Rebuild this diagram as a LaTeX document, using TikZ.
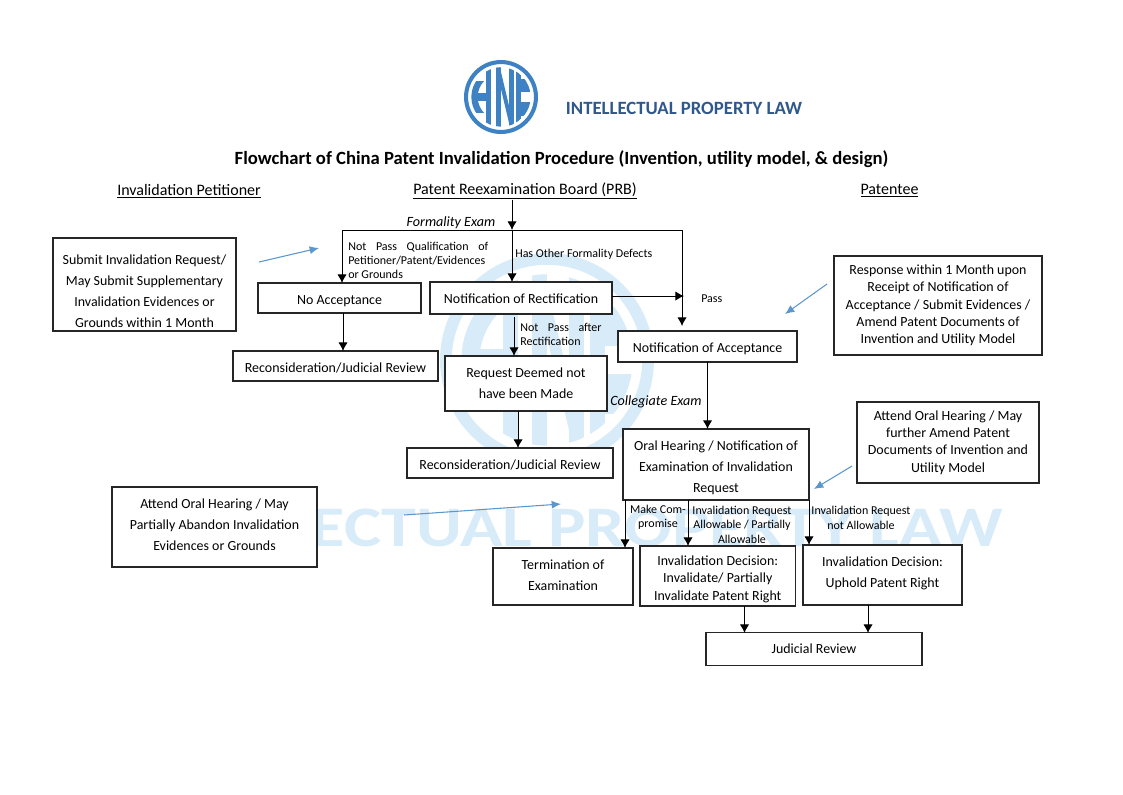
\documentclass[tikz,border=0pt]{standalone}
\usepackage{fontspec}
\setmainfont{Carlito}
\usetikzlibrary{arrows.meta}
\definecolor{logoblue}{RGB}{62,130,196}
\definecolor{lawblue}{RGB}{47,88,140}
\definecolor{markblue}{RGB}{216,235,249}
\definecolor{noteblue}{RGB}{91,150,205}
\tikzset{
	boxnode/.style={rectangle, draw=black!85, fill=white, line width=0.85pt, outer sep=0pt, inner sep=0pt, align=center, font=\fontsize{10.45}{15.7}\selectfont},
	tightnode/.style={boxnode, font=\fontsize{10.45}{13}\selectfont},
	boxsize/.style 2 args={minimum width=0.75*#1 pt, minimum height=0.75*#2 pt},
	textdown/.style={execute at begin node={\rule{0pt}{#1pt}}},
	textup/.style={execute at end node={\rule[-#1pt]{0pt}{0pt}}},
	labelnode/.style={align=center, inner sep=0pt, font=\fontsize{9}{10.8}\selectfont},
	justnode/.style={labelnode, align=justify, anchor=north west, execute at begin node={\hyphenpenalty=10000\relax}},
	examnode/.style={inner sep=0pt, font=\fontsize{10.6}{12}\selectfont\itshape},
	headnode/.style={inner sep=0pt, font=\fontsize{12}{14}\selectfont},
	flowarrow/.style={-{Latex[length=6.5pt,width=7pt]}, line width=0.7pt, draw=black},
	notearrow/.style={-{Latex[length=7pt,width=6pt]}, line width=0.8pt, draw=noteblue},
	hnclogo/.pic={
		\fill[even odd rule] (0,0) circle (1) (0,0) circle (0.89);
		\begin{scope}
			\clip (-0.8,-0.43) rectangle (-0.4,0.43);
			\fill[even odd rule] (0,0) circle (0.8) (0,0) circle (0.63);
		\end{scope}
		\begin{scope}
			\clip (0,0) circle (0.8);
			\fill (-0.7,-0.1) rectangle (-0.3,0.1);
			\fill (-0.41,-0.8) rectangle (-0.27,0.8);
			\fill (-0.14,-0.8) rectangle (0,0.8);
			\fill (0.21,-0.8) rectangle (0.35,0.8);
			\fill (-0.14,-0.8) -- (-0.03,-0.8) -- (0.35,0.8) -- (0.24,0.8) -- cycle;
			\fill (0.4,-0.8) rectangle (0.54,0.8);
			\fill (0.54,0.13) rectangle (0.8,0.5);
			\fill (0.54,-0.5) rectangle (0.8,-0.13);
		\end{scope}
	}
}
\begin{document}
\begin{tikzpicture}[x=0.75pt,y=-0.75pt]
		\useasboundingbox (0,0) rectangle (1123,794);
		% watermark
		\pic[fill=markblue, scale=107] at (547,360) {hnclogo};
		\node[inner sep=0pt, text=markblue, font=\fontsize{43}{46}\selectfont\bfseries] at (560,528) (marktext) {\scalebox{1.225}[1]{INTELLECTUAL PROPERTY LAW}};
		% letterhead
		\pic[fill=logoblue, scale=37] at (501,97) {hnclogo};
		\node[inner sep=0pt, text=lawblue, font=\fontsize{14.05}{16}\selectfont\bfseries] at (684,108) (lawtext) {INTELLECTUAL PROPERTY LAW};
		\node[inner sep=0pt, font=\fontsize{14}{16}\selectfont\bfseries] at (561.5,159) (title) {Flowchart of China Patent Invalidation Procedure (Invention, utility model, \& design)};
		\node[headnode] at (189,191) (petitioner) {\underline{Invalidation Petitioner}};
		\node[headnode] at (525,191) (board) {\underline{Patent Reexamination Board (PRB)}};
		\node[headnode] at (889.5,191) (patentee) {\underline{Patentee}};
		% boxes
		\node[boxnode, boxsize={183}{93}, textdown=64] at (144.5,284.5) (submit) {Submit Invalidation Request/\\May Submit Supplementary\\Invalidation Evidences or\\Grounds within 1 Month};
		\node[boxnode, boxsize={163}{30}, textdown=12] at (339.5,298) (noaccept) {No Acceptance};
		\node[boxnode, boxsize={182}{32}, textdown=8.5] at (521,298) (rectify) {Notification of Rectification};
		\node[boxnode, boxsize={179}{31}, textdown=10.6] at (707.5,346.5) (accept) {Notification of Acceptance};
		\node[boxnode, boxsize={205}{30}, textdown=10] at (335.5,366) (reviewA) {Reconsideration/Judicial Review};
		\node[boxnode, boxsize={162}{55}] at (526,383.5) (deemed) {Request Deemed not\\have been Made};
		\node[boxnode, boxsize={206}{30}, textdown=10] at (510,463) (reviewB) {Reconsideration/Judicial Review};
		\node[boxnode, boxsize={186}{71}, textdown=43.5] at (716,464.5) (oral) {Oral Hearing / Notification of\\Examination of Invalidation\\Request};
		\node[boxnode, boxsize={140}{57}, textup=1.5] at (563,576.5) (terminate) {Termination of\\Examination};
		\node[tightnode, boxsize={155.5}{60}, textdown=38] at (717.75,576) (invalidate) {Invalidation Decision:\\Invalidate/ Partially\\Invalidate Patent Right};
		\node[boxnode, boxsize={159}{60}, textup=4] at (882.5,575) (uphold) {Invalidation Decision:\\Uphold Patent Right};
		\node[boxnode, boxsize={216}{33}] at (814,649) (judicial) {Judicial Review};
		\node[tightnode, boxsize={208}{99}] at (938,305.5) (response) {Response within 1 Month upon\\Receipt of Notification of\\Acceptance / Submit Evidences /\\Amend Patent Documents of\\Invention and Utility Model};
		\node[tightnode, boxsize={182}{81}] at (948,442.5) (attendB) {Attend Oral Hearing / May\\further Amend Patent\\Documents of Invention and\\Utility Model};
		\node[boxnode, boxsize={205}{80}, textup=3.5] at (214.5,527) (attendA) {Attend Oral Hearing / May\\Partially Abandon Invalidation\\Evidences or Grounds};
		% labels
		\node[examnode] at (451,223) (formal) {Formality Exam};
		\node[examnode] at (656,402) (college) {Collegiate Exam};
		\node[justnode, text width=105pt] at (348,241.5) (notpassA) {Not Pass Qualification of Petitioner/Patent/Evidences or Grounds};
		\node[labelnode, anchor=west] at (515,254) (defects) {Has Other Formality Defects};
		\node[labelnode, anchor=west] at (701,299) (pass) {Pass};
		\node[justnode, text width=61pt] at (520,322.5) (notpassB) {Not Pass after Rectification};
		\node[labelnode] at (658,517) (compromise) {Make Com-\\promise};
		\node[labelnode] at (742,524.5) (allowable) {Invalidation Request\\Allowable / Partially\\Allowable};
		\node[labelnode] at (861,518) (notallow) {Invalidation Request\\not Allowable};
		% junctions and free ends
		\coordinate (busC) at (512,230);
		\coordinate (busL) at (342,230);
		\coordinate (busR) at (682,230);
		\coordinate (rectOut) at (684,296);
		\coordinate (rectDown) at (514,317);
		\coordinate (outA) at (625,500);
		\coordinate (outB) at (688,500);
		\coordinate (outC) at (809,500);
		\coordinate (inA) at (744.5,633);
		\coordinate (inB) at (868,633);
		\coordinate (noteA) at (319,248);
		\coordinate (noteA0) at (259,262);
		\coordinate (noteB) at (785,314);
		\coordinate (noteB0) at (827,284);
		\coordinate (noteC) at (814,489);
		\coordinate (noteC0) at (852,466);
		\coordinate (noteD) at (561,504);
		\coordinate (noteD0) at (404,515);
		\coordinate (downA) at (343,313);
		\coordinate (downB) at (518,411);
		% connectors
		\draw[flowarrow] (board.south -| busC) -- (busC);
		\draw[line width=0.7pt] (busL) -- (busR);
		\draw[flowarrow] (busL) -- (busL |- noaccept.north);
		\draw[flowarrow] (busC) -- (busC |- rectify.north);
		\draw[flowarrow] (busR) -- ++(0,96);
		\draw[flowarrow] (rectify.east |- rectOut) -- (rectOut);
		\draw[flowarrow] (rectDown) -- (rectDown |- deemed.north);
		\draw[flowarrow] (downA) -- (downA |- reviewA.north);
		\draw[flowarrow] (downB) -- (downB |- reviewB.north);
		\draw[flowarrow] (accept.south) -- (accept.south |- oral.north);
		\draw[flowarrow] (outA) -- (outA |- terminate.north);
		\draw[flowarrow] (outB) -- (outB |- invalidate.north);
		\draw[flowarrow] (outC) -- (outC |- uphold.north);
		\draw[flowarrow] (inA |- invalidate.south) -- (inA);
		\draw[flowarrow] (inB |- uphold.south) -- (inB);
		\draw[notearrow] (noteA0) -- (noteA);
		\draw[notearrow] (noteB0) -- (noteB);
		\draw[notearrow] (noteC0) -- (noteC);
		\draw[notearrow] (noteD0) -- (noteD);
	\end{tikzpicture}
\end{document}
